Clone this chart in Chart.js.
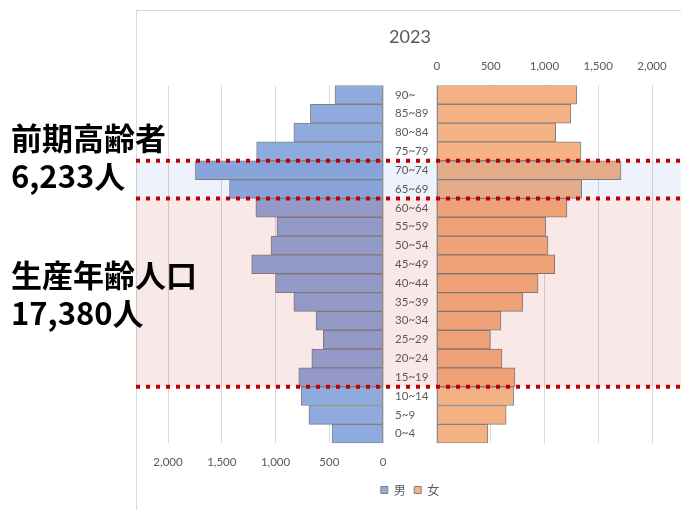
<!DOCTYPE html>
<html>
<head>
<meta charset="utf-8">
<script src="https://cdn.jsdelivr.net/npm/chart.js@4"></script>
<style>
  html, body { margin: 0; padding: 0; background: #fff; }
  #wrap { position: relative; width: 681px; height: 510px; overflow: hidden; }
  #frame { position: absolute; left: 136px; top: 10px; width: 700px; height: 600px; border: 1px solid #D9D9D9; }
  canvas { position: absolute; left: 0; top: 0; }
  .note { position: absolute; left: 11px; font-family: "Noto Sans CJK JP"; font-weight: 700;
          font-size: 31px; line-height: 38px; color: #000; white-space: nowrap; }
</style>
</head>
<body>
<div id="wrap">
  <div id="frame"></div>
  <canvas id="pyramid" width="681" height="510"></canvas>
  <div class="note" id="note1" style="top:118px"></div>
  <div class="note" id="note2" style="top:255px"></div>
</div>
<script>
// age groups, top to bottom
const ageGroups = ['90~', '85~89', '80~84', '75~79', '70~74', '65~69', '60~64', '55~59', '50~54',
                   '45~49', '40~44', '35~39', '30~34', '25~29', '20~24', '15~19', '10~14', '5~9', '0~4'];
const male   = [448, 676, 830, 1176, 1745, 1428, 1183, 987, 1042, 1222, 1000, 830, 624, 556, 663, 784, 761, 690, 474];
const female = [1301, 1245, 1105, 1340, 1712, 1346, 1209, 1013, 1033, 1095, 941, 797, 595, 497, 605, 725, 716, 644, 474];
const axisTicks = [0, 500, 1000, 1500, 2000];
const seriesNames = ['男', '女'];
const chartTitle = '2023';

// highlighted groups (first and last age group of each band)
const elderlyBand = ['70~74', '65~69'];
const workingBand = ['60~64', '15~19'];
const elderlyNote = ['前期高齢者', '6,233人'];
const workingNote = ['生産年齢人口', '17,380人'];

document.getElementById('note1').innerHTML = elderlyNote.join('<br>');
document.getElementById('note2').innerHTML = workingNote.join('<br>');

const tickColor = '#595959';
const gridColor = '#D9D9D9';
const fmt = v => v.toLocaleString('en-US');
const onlyPositive = scale => { scale.ticks = axisTicks.map(v => ({ value: v })); };

// age labels in the gap between both halves
const ageLabels = {
  id: 'ageLabels',
  afterDatasetsDraw(chart) {
    const { ctx, scales } = chart;
    const x = scales.xM.getPixelForValue(0) + 12;
    ctx.save();
    ctx.font = '11.5px Lato';
    ctx.fillStyle = tickColor;
    ctx.textAlign = 'left';
    ctx.textBaseline = 'middle';
    ageGroups.forEach((g, i) => ctx.fillText(g, x, scales.y.getPixelForValue(i)));
    ctx.restore();
  }
};

// shaded bands and dotted borders
const bandsPlugin = {
  id: 'bands',
  afterDatasetsDraw(chart) {
    const { ctx, scales } = chart;
    const y = scales.y;
    const left = 136, right = chart.width;
    const edge = name => y.getPixelForValue(ageGroups.indexOf(name));
    const e1 = edge(elderlyBand[0]) - 0.5 * (edge(elderlyBand[1]) - edge(elderlyBand[0]));
    const e2 = (edge(elderlyBand[1]) + edge(workingBand[0])) / 2;
    const w2 = edge(workingBand[1]) + 0.5 * (edge(workingBand[1]) - edge(ageGroups[ageGroups.indexOf(workingBand[1]) - 1]));
    ctx.save();
    ctx.fillStyle = 'rgba(68,114,196,0.09)';
    ctx.fillRect(left, e1, right - left, e2 - e1);
    ctx.fillStyle = 'rgba(192,0,0,0.09)';
    ctx.fillRect(left, e2, right - left, w2 - e2);
    ctx.strokeStyle = '#C00000';
    ctx.lineWidth = 4;
    ctx.setLineDash([4, 6]);
    [e1, e2, w2].forEach(yy => {
      ctx.beginPath();
      ctx.moveTo(left, yy);
      ctx.lineTo(right, yy);
      ctx.stroke();
    });
    ctx.restore();
  }
};

new Chart(document.getElementById('pyramid'), {
  type: 'bar',
  data: {
    labels: ageGroups,
    datasets: [
      {
        label: seriesNames[0],
        data: male,
        xAxisID: 'xM',
        backgroundColor: '#8FAADC',
        borderColor: '#808080',
        borderWidth: 1,
        borderSkipped: false,
        grouped: false,
        barPercentage: 1,
        categoryPercentage: 1
      },
      {
        label: seriesNames[1],
        data: female,
        xAxisID: 'xF',
        backgroundColor: '#F4B183',
        borderColor: '#808080',
        borderWidth: 1,
        borderSkipped: false,
        grouped: false,
        barPercentage: 1,
        categoryPercentage: 1
      }
    ]
  },
  options: {
    indexAxis: 'y',
    responsive: false,
    animation: false,
    layout: { padding: { left: 168, right: 29, top: 0, bottom: 4 } },
    scales: {
      y: { type: 'category', display: false },
      xM: {
        position: 'bottom',
        reverse: true,
        min: -2500,
        max: 2000,
        afterBuildTicks: onlyPositive,
        grid: { color: gridColor, drawTicks: false },
        border: { display: false },
        ticks: { color: tickColor, padding: 12, font: { family: 'Lato', size: 11.5 }, callback: fmt }
      },
      xF: {
        position: 'top',
        min: -2500,
        max: 2000,
        afterBuildTicks: onlyPositive,
        grid: { color: gridColor, drawTicks: false },
        border: { display: false },
        ticks: { color: tickColor, padding: 12, font: { family: 'Lato', size: 11.5 }, callback: fmt }
      }
    },
    plugins: {
      title: {
        display: true,
        text: chartTitle,
        color: tickColor,
        font: { family: 'Lato', size: 18, weight: 'normal' },
        padding: { top: 26, bottom: 0 }
      },
      legend: {
        position: 'bottom',
        labels: {
          boxWidth: 7,
          boxHeight: 7,
          padding: 3,
          color: tickColor,
          font: { family: '"Noto Sans CJK JP"', size: 12 },
          generateLabels(chart) {
            const items = Chart.defaults.plugins.legend.labels.generateLabels(chart);
            items[0].text += '  ';
            return items;
          }
        }
      },
      tooltip: { enabled: false }
    }
  },
  plugins: [bandsPlugin, ageLabels]
});
</script>
</body>
</html>
